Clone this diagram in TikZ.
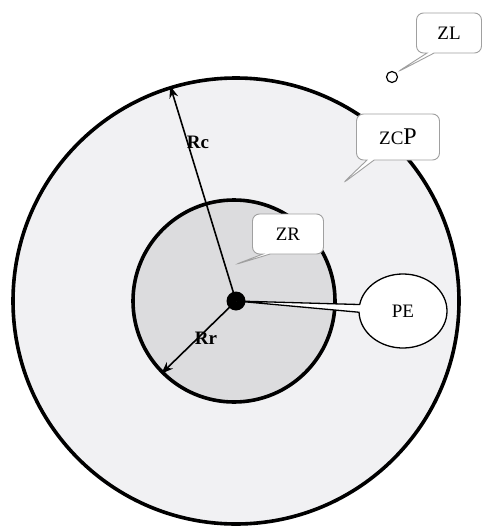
\documentclass[tikz,border=0pt]{standalone}
\usepackage{fontspec}
\setmainfont{Liberation Serif}
\usetikzlibrary{shapes.callouts,shapes.geometric,arrows.meta}
\definecolor{ringfill}{HTML}{F1F1F3}
\definecolor{corefill}{HTML}{DCDCDE}
\definecolor{callborder}{HTML}{A0A0A0}
\tikzset{
  zone/.style={circle, draw=black, line width=3.6pt, inner sep=0pt},
  callbox/.style={rectangle callout, rounded corners=7pt, draw=callborder, fill=white, line width=0.9pt, font=\fontsize{19}{21}\selectfont, inner sep=0pt},
  radius arrow/.style={draw=black, line width=1.6pt, -{Stealth[length=12pt,width=9pt]}},
  rlabel/.style={font=\fontsize{19}{21}\selectfont\bfseries}
}
\begin{document}
\begin{tikzpicture}[x=1pt,y=-1pt]
\useasboundingbox (0,0) rectangle (484,527);
\fill[white] (0,0) rectangle (484,527);
\node[zone, fill=ringfill, minimum size=446pt] (outer) at (236,301) {};
\node[zone, fill=corefill, minimum size=202pt] (inner) at (234,301) {};
\node[circle, fill=black, minimum size=19pt, inner sep=0pt] (dot) at (236,301) {};
\coordinate (rcend) at (outer.107.6);
\coordinate (rrend) at (inner.225.8);
\draw[radius arrow] (dot.center) -- (rcend);
\draw[radius arrow] (dot.center) -- (rrend);
\node[rlabel] (rc) at (198,142) {Rc};
\node[rlabel] (rr) at (206,338) {Rr};
\node[circle, draw=black, line width=1.2pt, minimum size=11pt, inner sep=0pt, fill=white] (zlc) at (392,77) {};
\node[callbox, minimum width=65pt, minimum height=40pt, callout absolute pointer={(zlc.north east)}] (zl) at (449,33) {ZL};
\coordinate (zcptip) at (342,184);
\node[callbox, minimum width=83pt, minimum height=46pt, callout absolute pointer={(zcptip)}] (zcp) at (398,137) {ZC\fontsize{24}{26}\selectfont P};
\coordinate (zrtip) at (234,265);
\node[callbox, minimum width=71pt, minimum height=40pt, callout absolute pointer={(zrtip)}] (zr) at (288,234) {ZR};
\node[ellipse callout, draw=black, fill=white, line width=1.3pt, minimum width=88pt, minimum height=74pt, inner sep=0pt, callout pointer arc=12, callout absolute pointer={(dot.center)}, font=\fontsize{19}{21}\selectfont] (pe) at (403,311) {PE};
\end{tikzpicture}
\end{document}
